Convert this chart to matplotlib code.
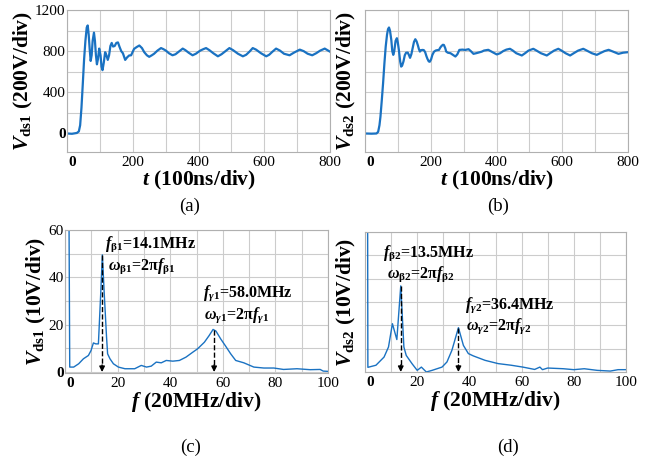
import numpy as np
import matplotlib
matplotlib.use('Agg')
import matplotlib.pyplot as plt
from matplotlib.transforms import ScaledTranslation

plt.rcParams['font.family'] = 'Liberation Serif'
plt.rcParams['mathtext.fontset'] = 'custom'
plt.rcParams['mathtext.rm'] = 'Liberation Serif'
plt.rcParams['mathtext.it'] = 'Liberation Serif:italic'
plt.rcParams['mathtext.bf'] = 'Liberation Serif:bold'
plt.rcParams['mathtext.bfit'] = 'Liberation Serif:bold:italic'

# (a) Vds1 time domain
t_a = [0, 15, 30, 36, 40, 44, 48, 52, 56, 60, 63, 66, 69, 72, 75, 78, 82, 85, 88, 91,
       94, 98, 102, 105, 108, 112, 116, 120, 124, 128, 132, 136, 140, 145, 150, 155,
       160, 165, 170, 177, 183, 189, 195, 204, 212, 220, 228, 235, 243, 250, 258, 265,
       275, 286, 293, 301, 310, 321, 330, 340, 352, 360, 370, 382, 392, 405, 415, 423,
       433, 445, 459, 470, 482, 494, 505, 520, 535, 545, 555, 565, 575, 590, 606, 615,
       625, 636, 648, 660, 677, 690, 708, 720, 732, 746, 758, 770, 784, 792, 800]
v_a = [0, -3, 5, 20, 80, 250, 480, 720, 900, 1030, 1050, 960, 820, 705, 760, 900, 980, 900, 760, 672,
       720, 825, 760, 650, 615, 690, 790, 760, 715, 760, 850, 880, 845, 850, 880, 885,
       840, 800, 780, 715, 740, 758, 760, 822, 840, 855, 830, 790, 760, 745, 760, 775,
       805, 830, 820, 805, 780, 760, 770, 795, 825, 810, 785, 760, 775, 805, 820, 830,
       810, 780, 750, 770, 800, 830, 810, 775, 750, 765, 795, 830, 815, 780, 750, 765,
       795, 825, 805, 775, 760, 785, 815, 800, 775, 760, 780, 805, 825, 810, 795]

# (b) Vds2 time domain
t_b = [0, 20, 35, 40, 44, 47, 51, 55, 59, 63, 67, 70, 73, 76, 80, 83, 86, 89, 93, 97,
       100, 103, 107, 110, 113, 117, 121, 125, 130, 134, 137, 141, 145, 149, 153, 157,
       161, 164, 167, 171, 175, 179, 183, 187, 190, 194, 197, 201, 205, 210, 215, 220,
       225, 229, 233, 237, 240, 244, 247, 252, 260, 267, 275, 281, 287, 296, 305, 315,
       322, 330, 338, 345, 355, 362, 375, 388, 401, 411, 420, 430, 441, 450, 460, 477,
       487, 497, 512, 522, 535, 553, 563, 575, 588, 598, 610, 624, 635, 648, 664, 675,
       690, 705, 715, 728, 741, 755, 771, 785, 800]
v_b = [0, -2, 0, 16, 80, 163, 320, 488, 680, 845, 960, 1014, 1030, 1000, 910, 800, 764, 800, 900, 926,
       880, 812, 700, 650, 660, 700, 760, 785, 786, 760, 735, 770, 830, 890, 916, 895,
       855, 820, 796, 810, 812, 810, 790, 750, 725, 700, 697, 720, 764, 795, 806, 810,
       812, 835, 851, 862, 860, 830, 796, 785, 780, 765, 748, 770, 812, 815, 812, 819,
       800, 774, 780, 786, 795, 806, 813, 790, 768, 780, 800, 815, 823, 805, 780, 758,
       780, 805, 823, 805, 780, 758, 780, 805, 823, 805, 780, 758, 780, 805, 823, 805,
       780, 764, 780, 800, 813, 795, 774, 785, 790]

# (c) Vds1 spectrum
f_c = [1.5, 1.8, 3.3, 5.2, 7.0, 8.9, 9.9, 10.8, 11.7, 12.7, 13.6, 14.2, 14.9, 15.8, 16.2,
       17.1, 18.4, 20.3, 22.8, 26.5, 29.0, 31.0, 32.8, 34.7, 36.6, 38.5, 41.0, 43.5, 46.0,
       48.6, 50.4, 53.0, 54.8, 56.3, 57.4, 59.2, 61.1, 63.0, 64.9, 68.0, 71.8, 75.6, 79.4,
       83.1, 88.2, 93.2, 97.0, 98.2, 100]
s_c = [70, 2.1, 2.1, 3.5, 5.6, 7.0, 9.1, 12.3, 11.9, 11.9, 33.6, 49.5, 33.6, 14.7, 7.7,
       5.6, 3.5, 2.1, 1.4, 1.4, 2.8, 2.1, 2.5, 4.2, 3.9, 4.9, 4.6, 4.9, 6.3,
       8.4, 9.8, 12.6, 15.4, 18.0, 17.3, 14.0, 10.9, 7.7, 4.9, 3.9, 2.1, 1.7, 1.7,
       1.1, 1.4, 1.0, 1.1, 0.4, 0.3]
peaks_c = [(14.1, 49.5), (56.7, 17.6)]

# (d) Vds2 spectrum
f_d = [1.0, 1.1, 4.2, 7.3, 9.0, 10.5, 12.2, 13.7, 14.9, 15.8, 18.0, 20.0, 21.6, 23.5,
       25.7, 29.5, 31.4, 33.3, 35.8, 37.7, 39.6, 41.5, 46.0, 51.0, 56.0, 60.5, 65.0,
       67.0, 68.0, 70.0, 76.0, 80.0, 84.0, 89.0, 94.0, 97.0, 100]
s_d = [70, 2.0, 2.9, 6.4, 10.7, 20.7, 13.9, 36.9, 10.7, 7.1, 3.6, 0.7, 2.1, 0.0,
       0.7, 2.1, 4.3, 9.3, 19.0, 11.4, 7.9, 6.9, 5.0, 3.6, 2.9, 2.1, 1.1,
       2.1, 1.0, 1.7, 1.4, 1.0, 1.4, 0.7, 0.4, 1.0, 1.0]
peaks_d = [(13.7, 36.9), (35.8, 19.0)]

blue = '#1a72c2'
grid_c = '#cccccc'

fig = plt.figure(figsize=(6.65, 4.61), dpi=100)
W, H = 665.0, 461.0


def make_ax(l, r, top, bot):
    return fig.add_axes([l / W, 1 - bot / H, (r - l) / W, (bot - top) / H])


def style(ax, xmaj, xmin, ymaj, ymin, show_y):
    ax.set_xticks(xmaj, [str(v) for v in xmaj])
    ax.set_xticks(xmin, minor=True)
    if show_y:
        ax.set_yticks(ymaj, [str(v) for v in ymaj])
    else:
        ax.set_yticks(ymaj, ['' for v in ymaj])
    ax.set_yticks(ymin, minor=True)
    ax.grid(True, which='both', color=grid_c, lw=0.8)
    ax.set_axisbelow(True)
    ax.tick_params(which='both', length=0, labelsize=11)
    ax.tick_params(axis='x', pad=3)
    ax.tick_params(axis='y', pad=1)
    for s in ax.spines.values():
        s.set_color('#b0b0b0')
        s.set_linewidth(0.8)
    shift = ScaledTranslation(4 / 72, 0, fig.dpi_scale_trans)
    for lab in ax.get_xticklabels():
        if lab.get_text() == '0':
            lab.set_fontweight('bold')
            lab.set_transform(lab.get_transform() + shift)
    for lab in ax.get_yticklabels():
        if lab.get_text() == '0':
            lab.set_fontweight('bold')


lab_kw = dict(fontsize=15.5, fontweight='bold')
ann_kw = dict(fontsize=11.5, fontweight='bold', ha='left', va='center')

# (a)
ax = make_ax(67, 330, 10, 152)
ax.plot(t_a, v_a, color=blue, lw=1.6)
ax.set_xlim(0, 800)
ax.set_ylim(-180, 1200)
style(ax, [0, 200, 400, 600, 800], [100, 300, 500, 700],
      [0, 400, 800, 1200], [200, 600, 1000], True)
ax.set_xlabel(r'$\mathbfit{t}$ (100ns/div)', labelpad=0, **lab_kw)
ax.set_ylabel(r'$\mathbfit{V}_{\mathbf{ds1}}$ (200V/div)', labelpad=0, **lab_kw)

# (b)
ax = make_ax(365, 628, 10, 152)
ax.plot(t_b, v_b, color=blue, lw=1.6)
ax.set_xlim(0, 800)
ax.set_ylim(-180, 1200)
style(ax, [0, 200, 400, 600, 800], [100, 300, 500, 700],
      [0, 400, 800, 1200], [200, 600, 1000], False)
ax.set_xlabel(r'$\mathbfit{t}$ (100ns/div)', labelpad=0, **lab_kw)
ax.set_ylabel(r'$\mathbfit{V}_{\mathbf{ds2}}$ (200V/div)', labelpad=2, **lab_kw)


def arrows(ax, peaks):
    for x, y in peaks:
        ax.plot([x, x], [y, 2.5], ls='--', color='black', lw=1)
        ax.annotate('', xy=(x, 0), xytext=(x, 3),
                    arrowprops=dict(arrowstyle='-|>', color='black', lw=1,
                                    mutation_scale=8, shrinkA=0, shrinkB=0))


# (c)
ax = make_ax(65, 328, 230, 373)
ax.plot(f_c, s_c, color=blue, lw=1.0)
ax.set_xlim(0, 100)
ax.set_ylim(-0.4, 60)
style(ax, [0, 20, 40, 60, 80, 100], [10, 30, 50, 70, 90],
      [0, 20, 40, 60], [10, 30, 50], True)
arrows(ax, peaks_c)
ax.set_xlabel(r'$\mathbfit{f}$ (20MHz/div)', labelpad=0, **lab_kw)
ax.set_ylabel(r'$\mathbfit{V}_{\mathbf{ds1}}$ (10V/div)', labelpad=0, **lab_kw)
ax.text(15.2, 54.0, r'$\mathbfit{f}_{\mathbf{\beta1}}$=14.1MHz', **ann_kw)
ax.text(16.3, 44.8, r'$\mathbfit{\omega}_{\mathbf{\beta1}}$=2$\mathbf{\pi}\mathbfit{f}_{\mathbf{\beta1}}$', **ann_kw)
ax.text(52.5, 33.2, r'$\mathbfit{f}_{\mathbfit{\gamma}\mathbf{1}}$=58.0MHz', **ann_kw)
ax.text(52.8, 24.0, r'$\mathbfit{\omega}_{\mathbfit{\gamma}\mathbf{1}}$=2$\mathbf{\pi}\mathbfit{f}_{\mathbfit{\gamma}\mathbf{1}}$', **ann_kw)

# (d)
ax = make_ax(365, 626, 232, 372)
ax.plot(f_d, s_d, color=blue, lw=1.0)
ax.set_xlim(0, 100)
ax.set_ylim(0, 60)
style(ax, [0, 20, 40, 60, 80, 100], [10, 30, 50, 70, 90],
      [0, 20, 40, 60], [10, 30, 50], False)
arrows(ax, peaks_d)
ax.set_xlabel(r'$\mathbfit{f}$ (20MHz/div)', labelpad=0, **lab_kw)
ax.set_ylabel(r'$\mathbfit{V}_{\mathbf{ds2}}$ (10V/div)', labelpad=2, **lab_kw)
ax.text(7.0, 51.0, r'$\mathbfit{f}_{\mathbf{\beta2}}$=13.5MHz', **ann_kw)
ax.text(8.3, 42.0, r'$\mathbfit{\omega}_{\mathbf{\beta2}}$=2$\mathbf{\pi}\mathbfit{f}_{\mathbf{\beta2}}$', **ann_kw)
ax.text(38.3, 28.8, r'$\mathbfit{f}_{\mathbfit{\gamma}\mathbf{2}}$=36.4MHz', **ann_kw)
ax.text(38.7, 19.6, r'$\mathbfit{\omega}_{\mathbfit{\gamma}\mathbf{2}}$=2$\mathbf{\pi}\mathbfit{f}_{\mathbfit{\gamma}\mathbf{2}}$', **ann_kw)

for txt, x, y in [('(a)', 190, 206), ('(b)', 498, 206), ('(c)', 191, 447), ('(d)', 508, 447)]:
    fig.text(x / W, 1 - y / H, txt, ha='center', va='center', fontsize=13.5)

fig.savefig('out.png', dpi=100)
